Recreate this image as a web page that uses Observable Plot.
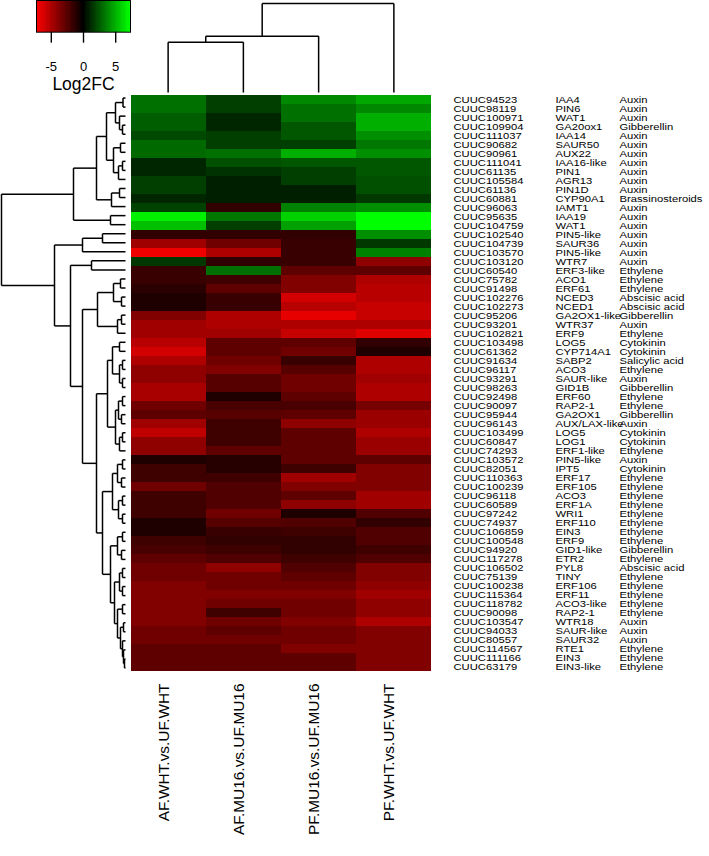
<!DOCTYPE html>
<html><head><meta charset="utf-8">
<script src="https://cdn.jsdelivr.net/npm/d3@7"></script>
<script src="https://cdn.jsdelivr.net/npm/@observablehq/plot@0.6"></script>
<style>
body{margin:0;background:#fff;}
#wrap{position:relative;width:709px;height:856px;background:#fff;}
#wrap svg{position:absolute;left:0;top:0;}
</style></head><body><div id="wrap"></div>
<script>
const geneIds = ["CUUC94523","CUUC98119","CUUC100971","CUUC109904","CUUC111037","CUUC90682","CUUC90961","CUUC111041","CUUC61135","CUUC105584",
"CUUC61136","CUUC60881","CUUC96063","CUUC95635","CUUC104759","CUUC102540","CUUC104739","CUUC103570","CUUC103120","CUUC60540",
"CUUC75782","CUUC91498","CUUC102276","CUUC102273","CUUC95206","CUUC93201","CUUC102821","CUUC103498","CUUC61362","CUUC91634",
"CUUC96117","CUUC93291","CUUC98263","CUUC92498","CUUC90097","CUUC95944","CUUC96143","CUUC103499","CUUC60847","CUUC74293",
"CUUC103572","CUUC82051","CUUC110363","CUUC100239","CUUC96118","CUUC60589","CUUC97242","CUUC74937","CUUC106859","CUUC100548",
"CUUC94920","CUUC117278","CUUC106502","CUUC75139","CUUC100238","CUUC115364","CUUC118782","CUUC90098","CUUC103547","CUUC94033",
"CUUC80557","CUUC114567","CUUC111166","CUUC63179"];
const geneSymbols = ["IAA4","PIN6","WAT1","GA20ox1","IAA14","SAUR50","AUX22","IAA16-like","PIN1","AGR13",
"PIN1D","CYP90A1","IAMT1","IAA19","WAT1","PIN5-like","SAUR36","PIN5-like","WTR7","ERF3-like",
"ACO1","ERF61","NCED3","NCED1","GA2OX1-like","WTR37","ERF9","LOG5","CYP714A1","SABP2",
"ACO3","SAUR-like","GID1B","ERF60","RAP2-1","GA2OX1","AUX/LAX-like","LOG5","LOG1","ERF1-like",
"PIN5-like","IPT5","ERF17","ERF105","ACO3","ERF1A","WRI1","ERF110","EIN3","ERF9",
"GID1-like","ETR2","PYL8","TINY","ERF106","ERF11","ACO3-like","RAP2-1","WTR18","SAUR-like",
"SAUR32","RTE1","EIN3","EIN3-like"];
const hormones = ["Auxin","Auxin","Auxin","Gibberellin","Auxin","Auxin","Auxin","Auxin","Auxin","Auxin",
"Auxin","Brassinosteroids","Auxin","Auxin","Auxin","Auxin","Auxin","Auxin","Auxin","Ethylene",
"Ethylene","Ethylene","Abscisic acid","Abscisic acid","Gibberellin","Auxin","Ethylene","Cytokinin","Cytokinin","Salicylic acid",
"Ethylene","Auxin","Gibberellin","Ethylene","Ethylene","Gibberellin","Auxin","Cytokinin","Cytokinin","Ethylene",
"Auxin","Cytokinin","Ethylene","Ethylene","Ethylene","Ethylene","Ethylene","Ethylene","Ethylene","Ethylene",
"Gibberellin","Ethylene","Abscisic acid","Ethylene","Ethylene","Ethylene","Ethylene","Ethylene","Auxin","Auxin",
"Auxin","Ethylene","Ethylene","Ethylene"];
const comparisons = ["AF.WHT.vs.UF.WHT","AF.MU16.vs.UF.MU16","PF.MU16.vs.UF.MU16","PF.WHT.vs.UF.WHT"];
const afWht = [3.2,3.2,2.7,2.7,2.1,3.0,3.0,1.1,1.1,1.8, 1.8,1.1,1.9,6.9,5.5,-1.4,-4.6,-6.9,1.6,-1.6,
 -1.6,-1.2,-0.9,-0.9,-3.7,-4.6,-4.6,-5.3,-6.0,-5.0, -4.1,-4.1,-4.8,-4.8,-3.2,-2.7,-4.6,-5.5,-4.1,-4.1,
 -0.9,-1.8,-1.8,-3.2,-1.8,-1.8,-1.8,-0.9,-0.9,-1.8, -2.1,-2.7,-3.2,-3.2,-3.7,-3.7,-3.7,-3.7,-3.7,-3.2,
 -3.2,-2.7,-2.7,-2.7];
const afMu16 = [1.8,1.8,1.1,1.1,1.8,1.8,3.2,2.3,1.4,0.9, 0.9,0.9,-1.4,3.4,1.8,-1.4,-3.2,-5.0,-1.4,3.2,
 -1.8,-2.7,-1.6,-1.6,-5.0,-5.0,-4.6,-2.7,-2.7,-3.2, -3.7,-2.5,-2.5,-0.9,-2.1,-2.5,-1.8,-1.8,-1.8,-2.7,
 -1.1,-1.1,-1.8,-2.3,-2.3,-2.3,-3.2,-2.5,-1.6,-1.4, -1.8,-2.3,-4.1,-3.2,-3.2,-3.7,-3.2,-1.8,-3.2,-2.7,
 -3.2,-2.7,-2.7,-2.7];
const pfMu16 = [3.9,3.2,3.2,2.5,2.5,1.8,5.0,2.5,1.8,1.8, 0.9,0.9,3.7,6.0,4.6,-1.4,-1.6,-1.6,-1.6,-2.7,
 -3.7,-3.7,-6.0,-5.3,-6.6,-5.0,-5.7,-2.7,-3.2,-1.6, -2.5,-3.2,-3.2,-2.7,-2.1,-2.7,-4.1,-2.7,-2.7,-2.7,
 -2.7,-1.8,-4.6,-3.7,-2.7,-4.1,-0.9,-2.3,-1.8,-1.4, -1.4,-1.8,-2.3,-2.7,-3.2,-3.7,-3.2,-3.2,-3.7,-3.2,
 -3.2,-3.7,-2.7,-2.7];
const pfWht = [4.8,3.9,5.0,5.0,4.1,3.4,4.1,2.5,2.5,2.3, 2.3,1.6,4.1,7.3,7.3,4.1,1.6,3.7,-4.1,-2.7,
 -5.0,-5.3,-5.3,-5.7,-5.7,-5.0,-6.4,-1.4,-0.9,-5.0, -5.0,-4.6,-5.0,-5.0,-3.4,-4.4,-4.4,-5.0,-4.4,-4.4,
 -2.7,-3.7,-3.7,-3.7,-4.6,-4.6,-2.3,-1.4,-2.3,-2.3, -1.8,-2.3,-3.7,-3.7,-4.1,-4.6,-4.1,-4.1,-5.0,-3.7,
 -3.7,-3.7,-3.7,-3.7];
const keyTicks = [-5, 0, 5];
const keyLimit = 7.3;
// row dendrogram: [left, right, mergeHeight]; leaves = row numbers (1-based)
const rowTree = [
  [[[[[1,2,0.25],[3,[4,5,0.3],0.6],1.0],[[6,7,0.5],[[8,9,0.3],10,0.7],1.2],1.9],[[11,12,0.6],13,1.4],2.9],[14,15,1.5],5.2],
  [[[16,17,2.3],18,4.3],
   [[19,20,3.4],
    [[[[21,22,0.5],[23,24,0.4],1.2],[[25,26,0.4],27,0.8],2.8],
     [[[[28,29,0.6],[[30,31,0.3],[32,33,0.3],0.6],1.3],[[[34,35,0.3],[36,37,0.4],0.7],[[38,39,0.3],40,0.6],1.0],1.8],
      [[[[41,42,0.3],[43,44,0.4],0.8],[[45,46,0.3],[47,48,0.3],0.7],1.3],
       [[[49,50,0.3],[51,52,0.4],0.8],[[[53,54,0.3],[55,56,0.3],0.6],[[57,58,0.3],[[59,60,0.2],[61,[62,[63,64,0.1],0.2],0.3],0.5],0.8],1.1],1.5],2.3],2.9],4.3],5.5],7.1],
  12.4];
const colTree = [[[1,2,5.65],3,6.33],4,10];

const W = 709, H = 856;
const hmLeft = 130, hmRight = 431, hmTop = 93, hmBottom = 672;
const font = "'Liberation Sans', Arial, Helvetica, sans-serif";
const baseStyle = {fontFamily: font, background: "transparent", overflow: "visible"};
const colorOpts = {type: "linear", domain: [-keyLimit, 0, keyLimit], range: ["#ff0000", "#000000", "#00ff00"], clamp: true};

const seriesCols = [afWht, afMu16, pfMu16, pfWht];
const cells = [];
geneIds.forEach((g, i) => comparisons.forEach((c, j) => cells.push({gene: g, comp: c, value: seriesCols[j][i]})));
const rows = geneIds.map((g, i) => ({id: g, sym: geneSymbols[i], cat: hormones[i]}));

function dendroSegments(tree) {
  const segs = [];
  (function walk(node) {
    if (typeof node === "number") return {pos: node, h: 0};
    const a = walk(node[0]), b = walk(node[1]), h = node[2];
    segs.push({h1: a.h, p1: a.pos, h2: h, p2: a.pos});
    segs.push({h1: b.h, p1: b.pos, h2: h, p2: b.pos});
    segs.push({h1: h, p1: a.pos, h2: h, p2: b.pos});
    return {pos: (a.pos + b.pos) / 2, h};
  })(tree);
  return segs;
}

const wrap = document.getElementById("wrap");

// heatmap + column labels
const heat = Plot.plot({
  width: W, height: H,
  marginLeft: hmLeft, marginRight: W - hmRight, marginTop: hmTop, marginBottom: H - hmBottom,
  style: baseStyle,
  x: {domain: comparisons, padding: 0, axis: null},
  y: {domain: geneIds, padding: 0, axis: null},
  color: colorOpts,
  marks: [
    Plot.cell(cells, {x: "comp", y: "gene", fill: "value", shapeRendering: "crispEdges"}),
    Plot.text(comparisons, {x: d => d, text: d => d, frameAnchor: "bottom", dy: 11, rotate: -90, textAnchor: "end", fontSize: 14, fill: "black"})
  ]
});
wrap.appendChild(heat);

// row labels
const labels = Plot.plot({
  width: W, height: H,
  marginLeft: 453, marginRight: 0, marginTop: hmTop, marginBottom: H - hmBottom,
  style: baseStyle,
  y: {domain: geneIds, padding: 0, axis: null},
  marks: [
    Plot.text(rows, {y: "id", text: "id", frameAnchor: "left", textAnchor: "start", fontSize: 9.6, fill: "black"}),
    Plot.text(rows, {y: "id", text: "sym", frameAnchor: "left", dx: 102, textAnchor: "start", fontSize: 9.6, fill: "black"}),
    Plot.text(rows, {y: "id", text: "cat", frameAnchor: "left", dx: 166, textAnchor: "start", fontSize: 9.6, fill: "black"})
  ]
});
wrap.appendChild(labels);

// row dendrogram
const rowSegs = dendroSegments(rowTree);
const rowDendro = Plot.plot({
  width: W, height: H,
  marginLeft: 1, marginRight: W - 125, marginTop: hmTop, marginBottom: H - hmBottom,
  style: baseStyle,
  x: {domain: [rowTree[2], 0], axis: null},
  y: {domain: [0.5, geneIds.length + 0.5], reverse: true, axis: null},
  marks: [
    Plot.link(rowSegs, {x1: "h1", y1: "p1", x2: "h2", y2: "p2", stroke: "black", strokeWidth: 1.5})
  ]
});
wrap.appendChild(rowDendro);

// column dendrogram
const colSegs = dendroSegments(colTree);
const colDendro = Plot.plot({
  width: W, height: H,
  marginLeft: hmLeft, marginRight: W - hmRight, marginTop: 3, marginBottom: H - 92,
  style: baseStyle,
  x: {domain: [0.5, comparisons.length + 0.5], axis: null},
  y: {domain: [0, colTree[2]], axis: null},
  marks: [
    Plot.link(colSegs, {x1: "p1", y1: "h1", x2: "p2", y2: "h2", stroke: "black", strokeWidth: 1.5})
  ]
});
wrap.appendChild(colDendro);

// colour key
const nBins = 75;
const keyBins = d3.range(nBins).map(i => {
  const x1 = -keyLimit + i * 2 * keyLimit / nBins, x2 = -keyLimit + (i + 1) * 2 * keyLimit / nBins;
  return {x1, x2, v: (x1 + x2) / 2};
});
const key = Plot.plot({
  width: W, height: H,
  marginLeft: 36, marginRight: W - 130, marginTop: 0, marginBottom: H - 31.7,
  style: baseStyle,
  x: {domain: [-keyLimit, keyLimit]},
  color: colorOpts,
  marks: [
    Plot.rect(keyBins, {x1: "x1", x2: "x2", fill: "v", shapeRendering: "crispEdges"}),
    Plot.frame({stroke: "black", strokeWidth: 1}),
    Plot.axisX({ticks: keyTicks, tickSize: 11, tickPadding: 19, tickFormat: d => String(d), fontSize: 13, label: null, stroke: "black", strokeWidth: 1.4}),
    Plot.text(["Log2FC"], {frameAnchor: "bottom", dy: 58, text: d => d, fontSize: 17.5, fill: "black"})
  ]
});
wrap.appendChild(key);

// stretch label glyphs along their length to match reference proportions
function stretch(svg, factor) {
  d3.select(svg).selectAll("g[aria-label=text] text").each(function() {
    const L = this.getComputedTextLength();
    this.setAttribute("textLength", L * factor);
    this.setAttribute("lengthAdjust", "spacingAndGlyphs");
  });
}
stretch(labels, 1.17);
stretch(heat, 1.1);
</script></body></html>
